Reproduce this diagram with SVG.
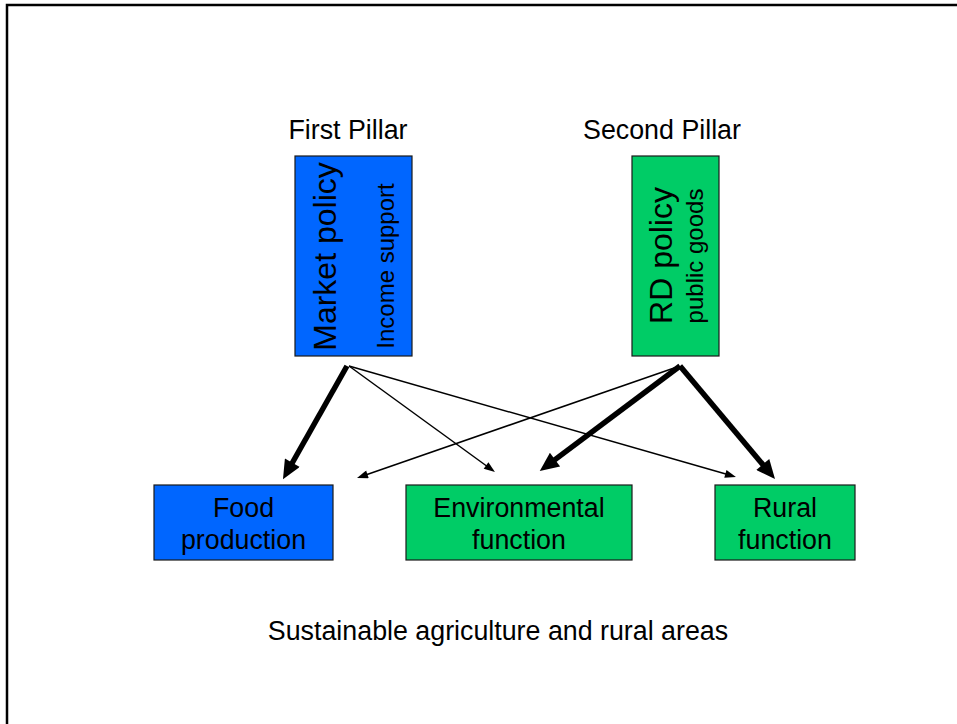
<svg xmlns="http://www.w3.org/2000/svg" width="957" height="724" viewBox="0 0 957 724">
<style>
text{font-family:"Liberation Sans",Arial,sans-serif;fill:#000}
.lbl{font-size:26.8px;text-anchor:middle}
.big{font-size:32px;text-anchor:middle}
.sub{font-size:24px;text-anchor:middle}
.blue{fill:#0066FF;stroke:#1a1a1a;stroke-width:1.2}
.green{fill:#00CC66;stroke:#1a1a1a;stroke-width:1.2}
.thick{stroke:#000;stroke-width:5.5;fill:none;marker-end:url(#ah)}
.thin{stroke:#000;stroke-width:1.5;fill:none;marker-end:url(#as)}
</style>
<defs>
<marker id="ah" markerUnits="userSpaceOnUse" markerWidth="21" markerHeight="17" viewBox="0 0 19 17" refX="10" refY="8.5" orient="auto"><path d="M0,0 L19,8.5 L0,17 z" fill="#000"/></marker>
<marker id="as" markerUnits="userSpaceOnUse" markerWidth="12" markerHeight="8" viewBox="0 0 11 8" refX="5" refY="4" orient="auto"><path d="M0,0 L11,4 L0,8 z" fill="#000"/></marker>
</defs>
<rect width="957" height="724" fill="#fff"/>
<path d="M7,724 L7,5 L957,5" fill="none" stroke="#000" stroke-width="2.5"/>
<text class="lbl" x="348" y="139">First Pillar</text>
<text class="lbl" x="662" y="139">Second Pillar</text>
<g id="market">
<rect class="blue" x="295" y="156" width="117" height="200"/>
<text class="big" transform="translate(336,256.5) rotate(-90)">Market policy</text>
<text class="sub" transform="translate(394,266) rotate(-90)">Income support</text>
</g>
<g id="rd">
<rect class="green" x="632" y="156" width="87" height="200"/>
<text class="big" transform="translate(672,255.5) rotate(-90)">RD policy</text>
<text class="sub" transform="translate(703,256) rotate(-90)">public goods</text>
</g>
<g id="food">
<rect class="blue" x="154" y="485" width="179" height="75"/>
<text class="lbl" x="243.5" y="517">Food</text>
<text class="lbl" x="243.5" y="549">production</text>
</g>
<g id="env">
<rect class="green" x="406" y="485" width="226" height="75"/>
<text class="lbl" x="519" y="517">Environmental</text>
<text class="lbl" x="519" y="549">function</text>
</g>
<g id="rural">
<rect class="green" x="715" y="485" width="140" height="75"/>
<text class="lbl" x="785" y="517">Rural</text>
<text class="lbl" x="785" y="549">function</text>
</g>
<g id="connectors">
<line class="thick" x1="347" y1="366" x2="287.4" y2="471.5"/>
<line class="thin" x1="349" y1="366" x2="490.1" y2="468.5"/>
<line class="thin" x1="349" y1="366" x2="730.2" y2="475.3"/>
<line class="thin" x1="677" y1="367" x2="362.7" y2="476"/>
<line class="thick" x1="680" y1="366" x2="547" y2="465.6"/>
<line class="thick" x1="680" y1="366" x2="769.2" y2="472.1"/>
</g>
<text class="lbl" x="498" y="640">Sustainable agriculture and rural areas</text>
</svg>
